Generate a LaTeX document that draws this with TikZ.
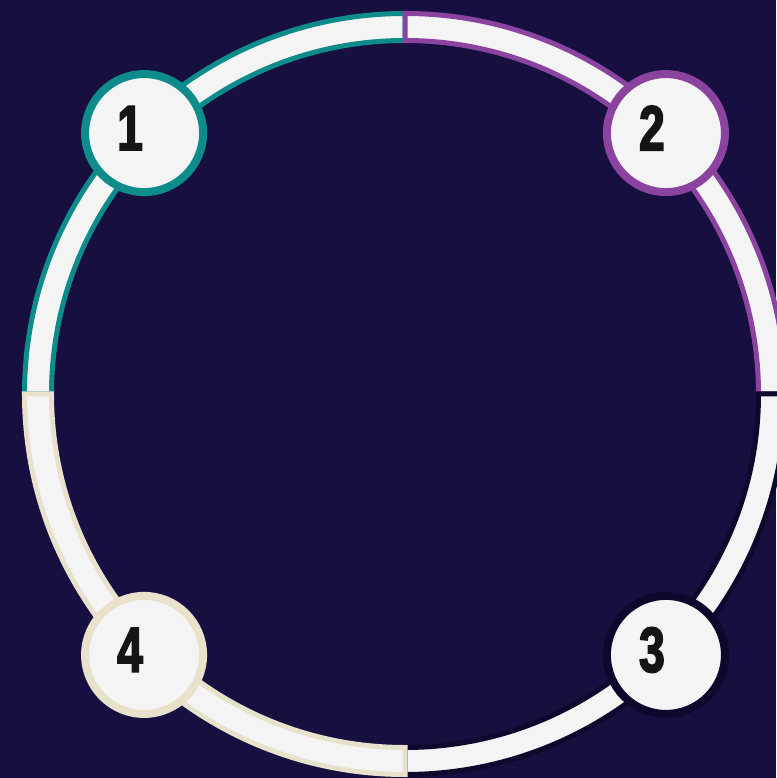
\documentclass[tikz,border=0pt]{standalone}
\usepackage{fontspec}
\usepackage{tikz}
\usetikzlibrary{calc}
\newfontfamily\numfont[FakeStretch=0.72,FakeBold=2.5]{Liberation Sans Bold}
\definecolor{bgNavy}{RGB}{23,15,64}
\definecolor{ringTeal}{RGB}{14,140,140}
\definecolor{ringPurple}{RGB}{138,68,160}
\definecolor{ringDark}{RGB}{14,9,44}
\definecolor{ringBeige}{RGB}{232,226,204}
\definecolor{chipWhite}{RGB}{244,244,244}
\definecolor{digitBlack}{RGB}{21,21,21}

\begin{document}
\begin{tikzpicture}[x=1pt, y=1pt,
        band/.style={fill=chipWhite, line width=5, line join=miter},
        numdot/.style={circle, fill=chipWhite, line width=8, minimum size=118, inner sep=0},
        numtxt/.style={text=digitBlack, font=\numfont\fontsize{64}{64}\selectfont, inner sep=0}
      ]
        % background and page size
        \fill[bgNavy] (-405,-384) rectangle (371,394);
        \useasboundingbox (-405,-384) rectangle (371,394);

        % ring quarters
        \draw[band, draw=ringTeal] (90:380.5) arc[start angle=90, end angle=180, radius=380.5]
          -- (180:353.5) arc[start angle=180, end angle=90, radius=353.5] -- cycle;
        \draw[band, draw=ringPurple] (0:380.5) arc[start angle=0, end angle=90, radius=380.5]
          -- (90:353.5) arc[start angle=90, end angle=0, radius=353.5] -- cycle;
        \draw[band, draw=ringDark] (-90:380.5) arc[start angle=-90, end angle=0, radius=380.5]
          -- (0:353.5) arc[start angle=0, end angle=-90, radius=353.5] -- cycle;
        \draw[band, draw=ringBeige] (180:380.5) arc[start angle=180, end angle=270, radius=380.5]
          -- (270:353.5) arc[start angle=270, end angle=180, radius=353.5] -- cycle;

        % numbered dots
        \node[numdot, draw=ringTeal] (d1) at (135:369) {};
        \node[numdot, draw=ringPurple] (d2) at (45:369) {};
        \node[numdot, draw=ringDark] (d3) at (-45:369) {};
        \node[numdot, draw=ringBeige] (d4) at (225:369) {};

        \node[numtxt] (t1) at ($(d1.center)+(-14,5)$) {1};
        \node[numtxt] (t2) at ($(d2.center)+(-14,5)$) {2};
        \node[numtxt] (t3) at ($(d3.center)+(-14,5)$) {3};
        \node[numtxt] (t4) at ($(d4.center)+(-14,5)$) {4};
      \end{tikzpicture}
\end{document}
